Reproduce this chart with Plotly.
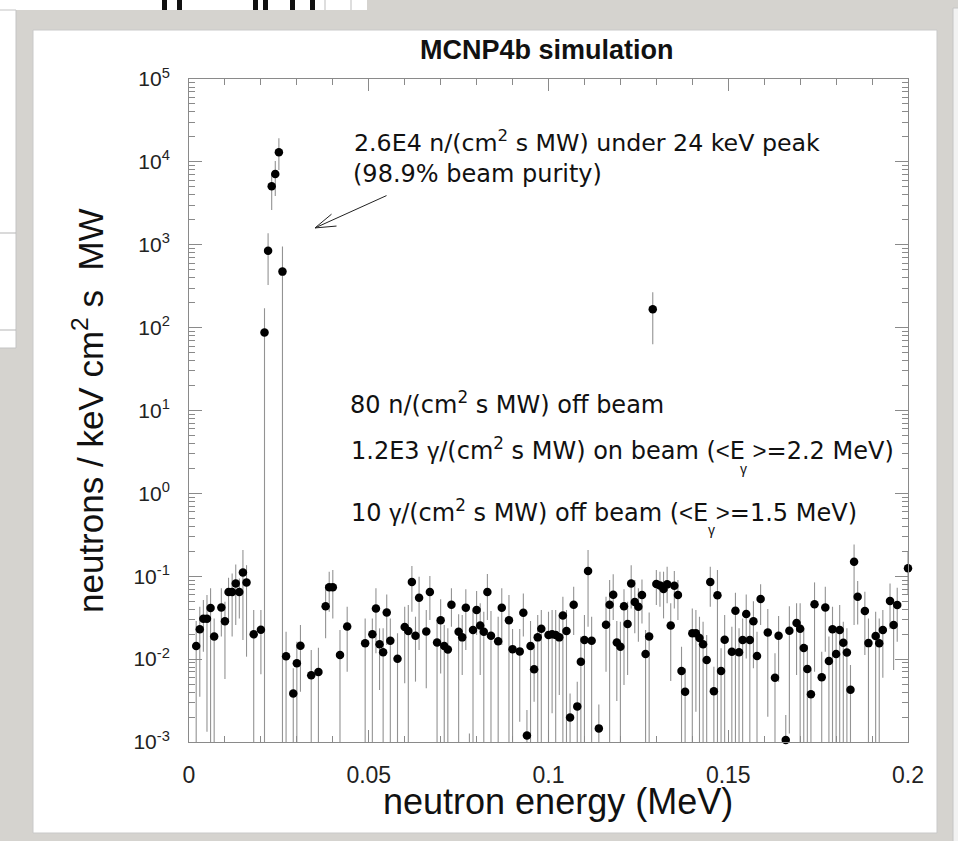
import plotly.graph_objects as go

# ---------------- data ----------------
energy_kev = [2, 3, 4, 5, 6, 7, 9, 10, 11, 12, 13, 14, 15, 16, 18, 20,
              21, 22, 23, 24, 25, 26,
              27, 29, 30, 31, 34, 36, 38, 39, 40, 42, 44, 49, 51, 52, 53, 54, 55, 56, 58,
              60, 61, 62, 63, 64, 66, 67, 69, 70, 71, 72, 73, 75, 76, 77, 78, 79,
              80, 81, 82, 83, 84, 86, 87, 89, 90, 92, 93, 94, 95, 96, 97, 98,
              100, 101, 102, 103, 104, 105, 106, 107, 108, 109, 110, 111, 112, 114,
              116, 117, 118, 119, 120, 121, 122, 123, 124, 125, 126, 127, 128, 129,
              130, 131, 132, 133, 134, 135, 136, 137, 138, 140, 141, 142, 143, 144,
              145, 146, 147, 148, 149, 151, 152, 153, 154, 155, 156, 157, 158, 159,
              161, 163, 164, 166, 167, 169, 170, 171, 172, 173, 174, 176, 177, 178,
              179, 180, 181, 182, 183, 184, 185, 186, 188, 189, 191, 192, 193, 195,
              196, 197, 200]

flux = [0.0144, 0.0229, 0.0308, 0.0308, 0.0413, 0.0187, 0.0421, 0.0286, 0.0644, 0.0644,
        0.082, 0.0644, 0.111, 0.0843, 0.0199, 0.0226,
        87.1, 849, 5070, 7145, 13030, 474,
        0.0108, 0.00386, 0.0089, 0.0145, 0.00637, 0.00698, 0.0434, 0.0735, 0.0735, 0.0112,
        0.0248, 0.0155, 0.0199, 0.0409, 0.0151, 0.0121, 0.0366, 0.0167, 0.0101,
        0.0244, 0.0218, 0.0851, 0.0192, 0.0551, 0.0216, 0.0644, 0.0159, 0.0294, 0.0144,
        0.0131, 0.0454, 0.0214, 0.0183, 0.0417, 0.0005, 0.0224,
        0.0391, 0.0255, 0.0214, 0.0644, 0.0192, 0.0164, 0.0417, 0.0294, 0.0132, 0.0124,
        0.0363, 0.0012, 0.0144, 0.00754, 0.0183, 0.0233,
        0.0195, 0.0199, 0.0195, 0.0183, 0.0337, 0.0218, 0.00197, 0.0454, 0.00269, 0.0093,
        0.017, 0.1156, 0.0167, 0.00146,
        0.026, 0.0454, 0.0598, 0.0159, 0.0141, 0.0434, 0.0265, 0.082, 0.0489, 0.0428,
        0.0593, 0.0115, 0.0187, 167,
        0.0805, 0.0776, 0.0702, 0.0798, 0.0255, 0.0769, 0.0593, 0.00718, 0.00405, 0.0205,
        0.0205, 0.018, 0.0151, 0.00975,
        0.0851, 0.00409, 0.0588, 0.00718, 0.0171, 0.0123, 0.0384, 0.0121, 0.017, 0.035,
        0.017, 0.0286, 0.0109, 0.0531,
        0.021, 0.00597, 0.0192, 0.00106, 0.022, 0.0272, 0.0233, 0.0136, 0.0076, 0.00376,
        0.0458, 0.00603, 0.0421, 0.0095,
        0.0229, 0.0115, 0.0224, 0.0158, 0.012, 0.00428, 0.1496, 0.0566, 0.038, 0.0156,
        0.019, 0.0155, 0.0224, 0.0502,
        0.0258, 0.045, 0.1245]

flux_hi = [0.0288, 0.0428, 0.0516, 0.0593, 0.0714, 0.031, 0.0714, 0.0493, 0.0959, 0.108,
           0.139, 0.0942, 0.207, 0.136, 0.0391, 0.0391,
           171, 1374, 7280, 10260, 19230, 950,
           0.0214, 0.00774, 0.0162, 0.0258, 0.0129, 0.0137, 0.0783, 0.1135, 0.119, 0.0224,
           0.0428, 0.031, 0.031, 0.0714, 0.0235, 0.0235, 0.0604, 0.031, 0.0205,
           0.0428, 0.045, 0.133, 0.0325, 0.0987, 0.0391, 0.1005, 0.0283, 0.0526, 0.0258,
           0.0235, 0.0714, 0.0347, 0.034, 0.0695, 0.00127, 0.0391,
           0.0662, 0.0471, 0.0373, 0.1064, 0.038, 0.0325, 0.0714, 0.0593, 0.0231, 0.0231,
           0.0621, 0.00243, 0.0288, 0.0141, 0.034, 0.0391,
           0.0373, 0.0391, 0.0391, 0.034, 0.0566, 0.0391, 0.00386, 0.0748, 0.00535, 0.0187,
           0.034, 0.207, 0.0325, 0.00284,
           0.0566, 0.0899, 0.1054, 0.0288, 0.0283, 0.0695, 0.0493, 0.136, 0.0899, 0.0714,
           0.0916, 0.0224, 0.0366, 267,
           0.119, 0.1135, 0.1135, 0.13, 0.0471, 0.116, 0.0899, 0.0141, 0.00774, 0.0409,
           0.0391, 0.0325, 0.0283, 0.0195,
           0.13, 0.0081, 0.119, 0.0135, 0.034, 0.0246, 0.0632, 0.0235, 0.031, 0.0604,
           0.0297, 0.05, 0.0214, 0.0798,
           0.0402, 0.0118, 0.0331, 0.00212, 0.0436, 0.0471, 0.0471, 0.0235, 0.0148, 0.00739,
           0.0843, 0.0123, 0.0748, 0.0187,
           0.0428, 0.0214, 0.045, 0.0283, 0.0235, 0.0085, 0.242, 0.0875, 0.065, 0.031,
           0.0373, 0.031, 0.0391, 0.082,
           0.05, 0.0728, 0.2]

flux_lo = [0, 0.00352, 0.0123, 0.00133, 0, 0, 0.0187, 0.00575, 0.0283, 0.0187,
           0.0258, 0.031, 0.017, 0.0107, 0, 0.00655,
           0, 327, 2630, 3880, 7980, 0,
           0, 0, 0, 0.00405, 0, 0, 0.0178, 0.0373, 0.031, 0,
           0.00705, 0, 0, 0.0118, 0.00424, 0, 0.0148, 0, 0,
           0.0051, 0, 0.0373, 0.00535, 0.0129, 0.00444, 0.0297, 0, 0.00673, 0,
           0, 0.0246, 0, 0.00643, 0.0129, 0, 0,
           0.0195, 0.00643, 0, 0.0297, 0, 0, 0.0148, 0, 0, 0.00176,
           0.0187, 0, 0, 0.00307, 0, 0,
           0, 0.00222, 0, 0.00369, 0, 0, 0, 0.0195, 0, 0,
           0, 0.0246, 0, 0,
           0.00705, 0, 0.0297, 0.00313, 0, 0.00488, 0.00643, 0.0409, 0.0205, 0.0162,
           0.027, 0, 0, 63,
           0.045, 0.0428, 0.031, 0.0471, 0.00545, 0.0409, 0.0297, 0, 0, 0,
           0.00232, 0, 0, 0,
           0.0428, 0, 0, 0, 0, 0, 0, 0, 0, 0.0102,
           0, 0.00774, 0, 0.0258,
           0.00202, 0, 0.00535, 0, 0.00127, 0.00643, 0, 0, 0, 0,
           0.00705, 0, 0.0123, 0,
           0, 0, 0, 0, 0, 0, 0.0258, 0.0262, 0.0112, 0,
           0, 0, 0.00597, 0.0233,
           0.00739, 0.0162, 0.06]

y_decades = [-3, -2, -1, 0, 1, 2, 3, 4, 5]
y_ticktext = ["10<sup>-3</sup>", "10<sup>-2</sup>", "10<sup>-1</sup>", "10<sup>0</sup>",
              "10<sup>1</sup>", "10<sup>2</sup>", "10<sup>3</sup>", "10<sup>4</sup>",
              "10<sup>5</sup>"]

title_text = "<b>MCNP4b simulation</b>"
x_title = "neutron energy (MeV)"
y_title = "neutrons / keV cm<sup>2</sup> s  MW"

NARROW = '<span style="font-family:Liberation Sans">'
G = NARROW + "\u03b3</span>"
LT = NARROW + "&lt;</span>"
GT = NARROW + "&gt;</span>"
note_lines = [
    "2.6E4 n/(cm<sup>2</sup> s MW) under 24 keV peak",
    "(98.9% beam purity)",
    "80 n/(cm<sup>2</sup> s MW) off beam",
    "1.2E3 " + G + "/(cm<sup>2</sup> s MW) on beam (" + LT + "E " + GT + "=2.2 MeV)",
    "10 " + G + "/(cm<sup>2</sup> s MW) off beam (" + LT + "E " + GT + "=1.5 MeV)",
]
gamma_sub = "\u03b3"

# ---------------- derived ----------------
energy = [k / 1000.0 for k in energy_kev]
err_plus = [h - v for h, v in zip(flux_hi, flux)]
err_minus = [v - l for v, l in zip(flux, flux_lo)]

W, H = 958, 841
L_M, R_M, T_M, B_M = 189, 50, 79, 99
PW, PH = W - L_M - R_M, H - T_M - B_M


def px(x):
    return (x - L_M) / PW


def py(y):
    return (H - B_M - y) / PH


fig = go.Figure()

# error bars (clipped to plot area)
fig.add_trace(go.Scatter(
    x=energy, y=flux, mode="markers",
    marker=dict(size=1, color="rgba(0,0,0,0)"),
    error_y=dict(type="data", symmetric=False, array=err_plus, arrayminus=err_minus,
                 color="#939393", thickness=1.1, width=0),
    hoverinfo="skip", showlegend=False,
))
# markers
fig.add_trace(go.Scatter(
    x=energy, y=flux, mode="markers", cliponaxis=False,
    marker=dict(size=8.5, color="black", line=dict(width=0)),
    showlegend=False,
))

axis_col = "#8a8a8a"
font_fam = "Liberation Sans, Arial, sans-serif"

y_minor = [m * 10.0 ** d for d in y_decades[:-1] for m in range(2, 10)]

fig.update_xaxes(
    range=[0, 0.2], tick0=0, dtick=0.05, showgrid=False, zeroline=False,
    showline=True, linecolor=axis_col, linewidth=1, mirror="allticks",
    ticks="inside", ticklen=12, tickwidth=1, tickcolor=axis_col,
    minor=dict(dtick=0.01, ticks="inside", ticklen=6, tickwidth=1, tickcolor=axis_col,
               showgrid=False),
    tickfont=dict(family=font_fam, size=23, color="#222"), ticklabelstandoff=12,
)
fig.update_yaxes(
    type="log", range=[-3, 5], showgrid=False, zeroline=False,
    tickmode="array", tickvals=[10.0 ** d for d in y_decades], ticktext=y_ticktext,
    showline=True, linecolor=axis_col, linewidth=1, mirror="allticks",
    ticks="inside", ticklen=13, tickwidth=1, tickcolor=axis_col,
    minor=dict(tickmode="array", tickvals=y_minor, ticks="inside", ticklen=6,
               tickwidth=1, tickcolor=axis_col, showgrid=False),
    tickfont=dict(family=font_fam, size=21, color="#222"), ticklabelstandoff=14,
)

shapes = []
# main white panel
shapes.append(dict(type="rect", xref="paper", yref="paper", layer="below",
                   x0=px(33), x1=px(937), y0=py(833), y1=py(30),
                   fillcolor="white", line=dict(color="#c9c9c9", width=1)))
# background slide fragments
shapes.append(dict(type="rect", xref="paper", yref="paper", layer="below",
                   x0=px(0), x1=px(367), y0=py(10), y1=py(0),
                   fillcolor="white", line=dict(width=0)))
shapes.append(dict(type="rect", xref="paper", yref="paper", layer="below",
                   x0=px(-2), x1=px(16), y0=py(348), y1=py(10),
                   fillcolor="white", line=dict(color="#c4c4c4", width=1)))
shapes.append(dict(type="rect", xref="paper", yref="paper", layer="below",
                   x0=px(953), x1=px(960), y0=py(843), y1=py(8),
                   fillcolor="#f2f2f2", line=dict(color="#c4c4c4", width=1)))
for yy in (233, 330):
    shapes.append(dict(type="line", xref="paper", yref="paper", layer="below",
                       x0=px(0), x1=px(16), y0=py(yy), y1=py(yy),
                       line=dict(color="#b5b5b5", width=1)))
for xx in (325, 351):
    shapes.append(dict(type="line", xref="paper", yref="paper", layer="below",
                       x0=px(xx), x1=px(xx), y0=py(10), y1=py(0),
                       line=dict(color="#bdbdbd", width=1)))
for xa, xb in ((162, 167), (177, 182), (253, 258), (263, 268), (290, 295), (310, 315)):
    shapes.append(dict(type="rect", xref="paper", yref="paper", layer="below",
                       x0=px(xa), x1=px(xb), y0=py(10), y1=py(0),
                       fillcolor="#111", line=dict(width=0)))

ann = []
ann.append(dict(text=title_text, xref="paper", yref="paper", x=px(547), y=py(50),
                xanchor="center", yanchor="middle", showarrow=False,
                font=dict(family=font_fam, size=27, color="#111")))
ann.append(dict(text=x_title, xref="paper", yref="paper", x=px(558), y=py(802),
                xanchor="center", yanchor="middle", showarrow=False,
                font=dict(family=font_fam, size=36, color="#111")))
ann.append(dict(text=y_title, xref="paper", yref="paper", x=px(88), y=py(410),
                xanchor="center", yanchor="middle", showarrow=False, textangle=-90,
                font=dict(family=font_fam, size=35, color="#111")))

note_pos = [(352, 141), (351, 174), (348, 403), (349, 449), (349, 511)]
note_sizes = [23.7, 24, 24, 24, 24]
for t, (xx, yy), fs in zip(note_lines, note_pos, note_sizes):
    ann.append(dict(text=t, xref="paper", yref="paper", x=px(xx), y=py(yy),
                    xanchor="left", yanchor="middle", showarrow=False,
                    font=dict(family="DejaVu Sans, Verdana, sans-serif", size=fs,
                              color="#111")))
# subscript gammas below the E of <E>
for xx, yy in ((743, 469), (711, 530)):
    ann.append(dict(text=gamma_sub, xref="paper", yref="paper", x=px(xx), y=py(yy),
                    xanchor="center", yanchor="middle", showarrow=False,
                    font=dict(family="Liberation Sans, sans-serif", size=14, color="#111")))

# arrow pointing at the peak (shaft + two barbs)
arrow_x = 0.03505
arrow_logy = 3.203
for axp, ayp in ((73, -33), (18, -15), (23, -2)):
    ann.append(dict(text="", x=arrow_x, y=arrow_logy, xref="x", yref="y",
                    showarrow=True, arrowhead=0, arrowwidth=1, arrowcolor="#222",
                    ax=axp, ay=ayp, standoff=0, startstandoff=0))

fig.update_layout(
    width=W, height=H, autosize=False,
    margin=dict(l=L_M, r=R_M, t=T_M, b=B_M, pad=0),
    paper_bgcolor="#d5d3cf", plot_bgcolor="white",
    shapes=shapes, annotations=ann, showlegend=False,
)

fig.write_html("out.html")
